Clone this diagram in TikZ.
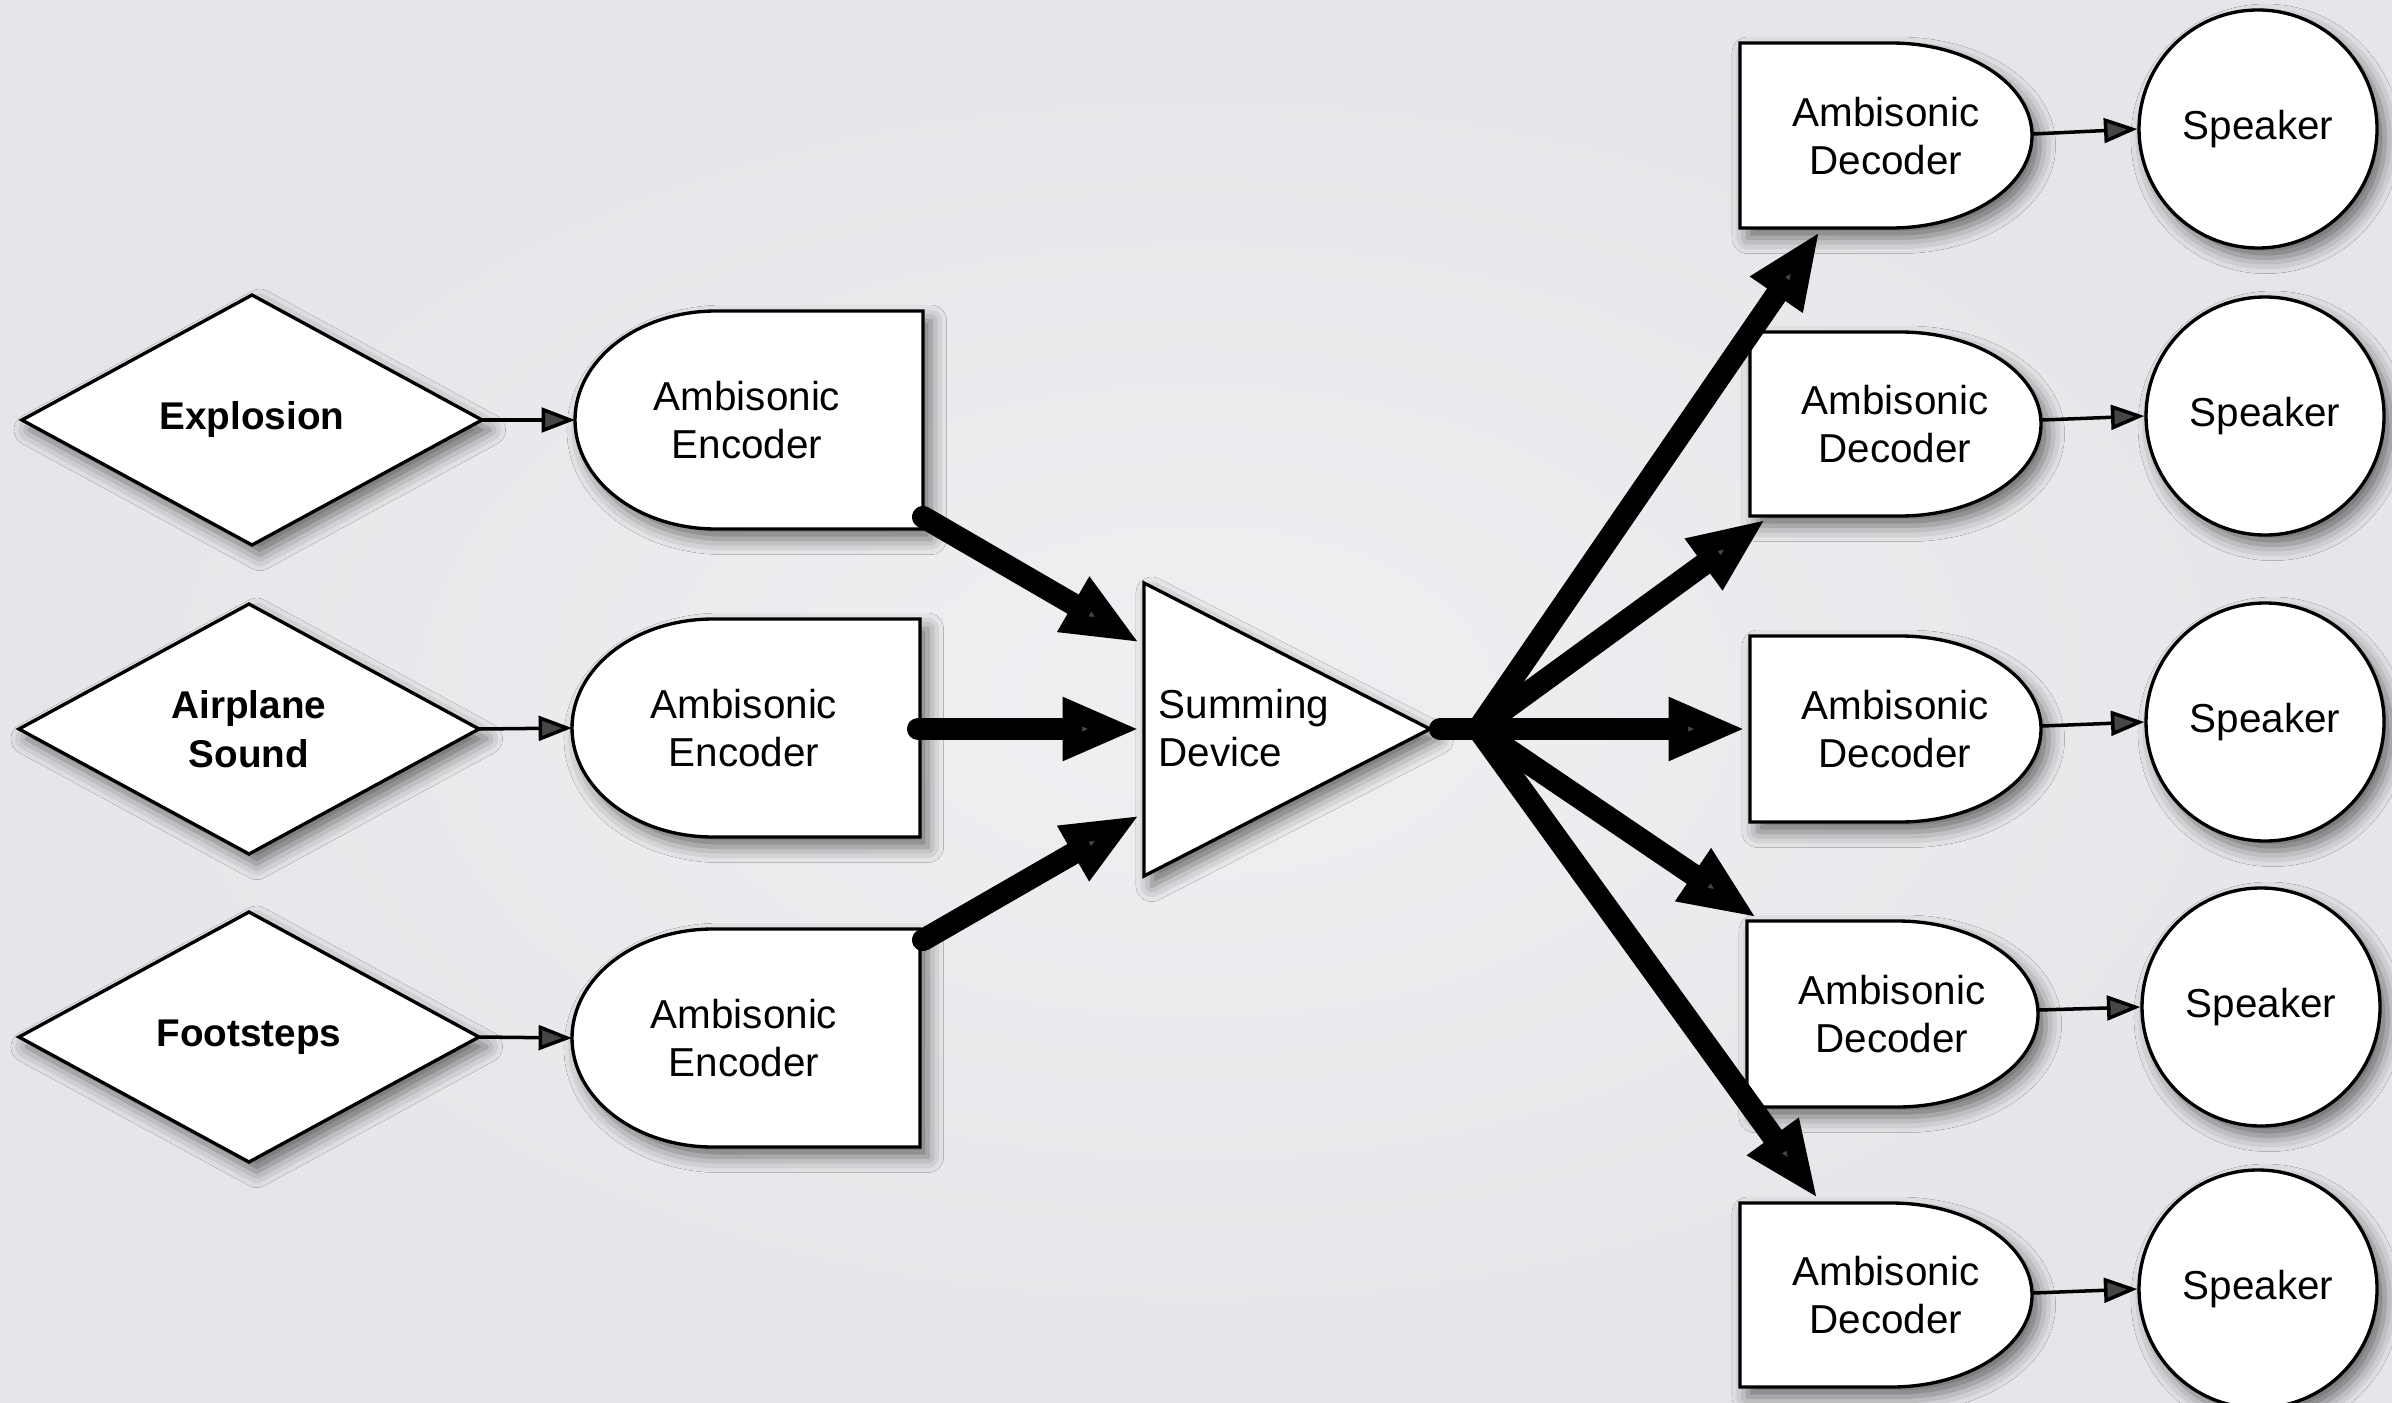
\documentclass[tikz,border=0pt]{standalone}
\usepackage{fontspec}
\setmainfont{Liberation Sans}
\usetikzlibrary{arrows.meta,shadows.blur}
\definecolor{bgIn}{RGB}{239,240,242}
\definecolor{bgOut}{RGB}{228,230,233}
\begin{document}
\begin{tikzpicture}[x=0.1mm,y=-0.1mm,
  shp/.style={draw=black, line width=0.95pt, fill=white,
    blur shadow={shadow xshift=2.2pt, shadow yshift=-2.8pt, shadow blur radius=4.5pt, shadow opacity=55}},
  lbl/.style={font=\fontsize{11.5}{13.9}\selectfont, align=center, inner sep=0pt},
  blbl/.style={font=\fontsize{11}{13.9}\selectfont\bfseries, align=center, inner sep=0pt},
  spk/.style={shp, circle, minimum size=23.8mm, inner sep=0pt, font=\fontsize{11.5}{13.9}\selectfont},
  thinarrow/.style={line width=1pt, -{Triangle[length=9.5pt,width=7pt]}},
  thickarrow/.style={line width=6.3pt, line cap=round, -{Triangle[length=22pt,width=16.5pt]}},
  thickline/.style={line width=6.3pt, line cap=round}]
\useasboundingbox (0,0) rectangle (2392,1402);
\clip (0,0) rectangle (2392,1402);
\shade[inner color=bgIn, outer color=bgOut] (0,0) rectangle (2392,1402);

% diamonds (sources)
\path[shp] (22,420) -- (252,295) -- (482,420) -- (252,545) -- cycle;
\path[shp] (19,729) -- (249,604) -- (479,729) -- (249,854) -- cycle;
\path[shp] (19,1037) -- (249,912) -- (479,1037) -- (249,1162) -- cycle;
\node[blbl] (src1) at (252,420) {Explosion};
\node[blbl] (src2) at (249,729) {Airplane\\Sound};
\node[blbl] (src3) at (249,1037) {Footsteps};
\coordinate (src1o) at (482,420);
\coordinate (src2o) at (479,729);
\coordinate (src3o) at (479,1037);

% encoders
\path[shp] (923,311) -- (716,311) arc[start angle=270, end angle=90, x radius=141, y radius=109] -- (923,529) -- cycle;
\path[shp] (920,619) -- (713,619) arc[start angle=270, end angle=90, x radius=141, y radius=109] -- (920,837) -- cycle;
\path[shp] (920,929) -- (713,929) arc[start angle=270, end angle=90, x radius=141, y radius=109] -- (920,1147) -- cycle;
\node[lbl] (enc1) at (747,420) {Ambisonic\\Encoder};
\node[lbl] (enc2) at (744,728) {Ambisonic\\Encoder};
\node[lbl] (enc3) at (744,1038) {Ambisonic\\Encoder};
\coordinate (enc1i) at (575,420);
\coordinate (enc2i) at (572,728);
\coordinate (enc3i) at (572,1038);
\coordinate (enc1o) at (923,517);
\coordinate (enc2o) at (918,729);
\coordinate (enc3o) at (923,940);

% summing device
\path[shp] (1144,583) -- (1430,729) -- (1144,876) -- cycle;
\node[lbl, anchor=west, align=left] (sum) at (1158,728) {Summing\\Device};
\coordinate (sumA) at (1140,643);
\coordinate (sumB) at (1140,729);
\coordinate (sumC) at (1140,815);
\coordinate (sumO) at (1440,729);
\coordinate (branch) at (1478,729);

% decoders
\path[shp] (1740,43) -- (1891,43) arc[start angle=270, end angle=450, x radius=141, y radius=92.5] -- (1740,228) -- cycle;
\path[shp] (1750,332) -- (1900,332) arc[start angle=270, end angle=450, x radius=141, y radius=92] -- (1750,516) -- cycle;
\path[shp] (1750,636) -- (1900,636) arc[start angle=270, end angle=450, x radius=141, y radius=93] -- (1750,822) -- cycle;
\path[shp] (1747,921) -- (1897,921) arc[start angle=270, end angle=450, x radius=141, y radius=93] -- (1747,1107) -- cycle;
\path[shp] (1740,1203) -- (1891,1203) arc[start angle=270, end angle=450, x radius=141, y radius=92] -- (1740,1387) -- cycle;
\node[lbl] (dec1) at (1886,136) {Ambisonic\\Decoder};
\node[lbl] (dec2) at (1895,424) {Ambisonic\\Decoder};
\node[lbl] (dec3) at (1895,729) {Ambisonic\\Decoder};
\node[lbl] (dec4) at (1892,1014) {Ambisonic\\Decoder};
\node[lbl] (dec5) at (1886,1295) {Ambisonic\\Decoder};
\coordinate (dec1i) at (1820,231);
\coordinate (dec2i) at (1766,519);
\coordinate (dec3i) at (1746,729);
\coordinate (dec4i) at (1757,918);
\coordinate (dec5i) at (1818,1199);
\coordinate (dec1o) at (2033,134);
\coordinate (dec2o) at (2042,420);
\coordinate (dec3o) at (2042,726);
\coordinate (dec4o) at (2039,1010);
\coordinate (dec5o) at (2033,1293);

% speakers
\node[spk] (spk1) at (2258,129) {Speaker};
\node[spk] (spk2) at (2265,416) {Speaker};
\node[spk] (spk3) at (2265,722) {Speaker};
\node[spk] (spk4) at (2261,1007) {Speaker};
\node[spk] (spk5) at (2258,1289) {Speaker};

% connectors
\draw[thinarrow] (src1o) -- (enc1i);
\draw[thinarrow] (src2o) -- (enc2i);
\draw[thinarrow] (src3o) -- (enc3i);

\draw[thickarrow] (enc1o) -- (sumA);
\draw[thickarrow] (enc2o) -- (sumB);
\draw[thickarrow] (enc3o) -- (sumC);

\draw[thickline] (sumO) -- (branch);
\draw[thickarrow] (branch) -- (dec1i);
\draw[thickarrow] (branch) -- (dec2i);
\draw[thickarrow] (branch) -- (dec3i);
\draw[thickarrow] (branch) -- (dec4i);
\draw[thickarrow] (branch) -- (dec5i);

\draw[thinarrow] (dec1o) -- (spk1.west);
\draw[thinarrow] (dec2o) -- (spk2.west);
\draw[thinarrow] (dec3o) -- (spk3.west);
\draw[thinarrow] (dec4o) -- (spk4.west);
\draw[thinarrow] (dec5o) -- (spk5.west);
\end{tikzpicture}
\end{document}
